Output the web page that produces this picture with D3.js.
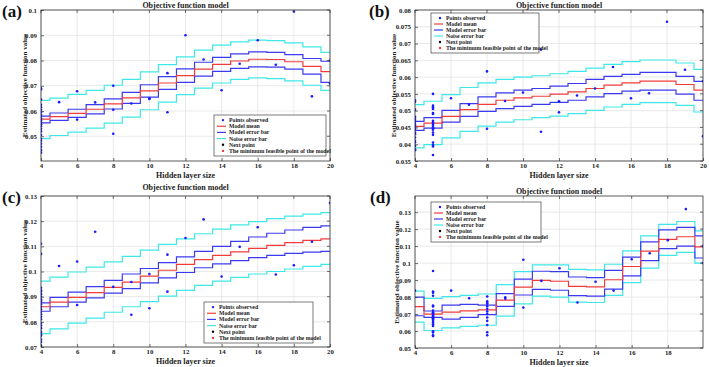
<!DOCTYPE html>
<html><head><meta charset="utf-8">
<script src="https://cdn.jsdelivr.net/npm/d3@7"></script>
<style>body{margin:0;background:#fff}svg text{font-family:"Liberation Serif","Times New Roman",serif;font-weight:bold}</style>
</head><body><svg id="c" width="709" height="367"></svg>
<script>
// ---------------- DATA ----------------
const hiddenSizes = [4,5,6,7,8,9,10,11,12,13,14,15,16,17,18,19,20];
const legendLabels = ["Points observed","Model mean","Model error bar","Noise error bar","Next point","The minimum feasible point of the model"];
const titleText = "Objective function model";
const xLabelText = "Hidden layer size";
const yLabelText = "Estimated objective function value";

// Panel (a)
const aMean   = [.0568,.0578,.0591,.0607,.0628,.0652,.0680,.0711,.0740,.0766,.0785,.0798,.0805,.0804,.0795,.0777,.0756];
const aModelUp= [.0580,.0592,.0607,.0625,.0648,.0674,.0704,.0736,.0767,.0793,.0812,.0826,.0834,.0832,.0823,.0808,.0797];
const aModelLo= [.0553,.0563,.0575,.0589,.0608,.0630,.0655,.0686,.0713,.0738,.0757,.0769,.0775,.0774,.0766,.0746,.0713];
const aNoiseUp= [.0642,.0651,.0666,.0682,.0702,.0725,.0755,.0784,.0814,.0841,.0861,.0874,.0881,.0879,.0870,.0854,.0832];
const aNoiseLo= [.0491,.0503,.0516,.0532,.0552,.0576,.0605,.0635,.0665,.0691,.0711,.0725,.0731,.0728,.0719,.0702,.0682];
const aPtsX = [4,4,4,4,4,4,4,4,4,4,4,4,4,4,4,4,4,4,4,4,4,4,4, 5,6,6,7,8,8,8,9,10,10,11,11,12,13,14,15,16,17,18,19,20,20];
const aPtsY = [.0690,.0685,.0645,.0625,.0615,.0605,.0595,.0585,.0578,.0570,.0562,.0555,.0548,.0540,.0530,.0520,.0505,.0490,.0482,.0470,.0458,.0445,.0435,
               .0635,.0678,.0566,.0634,.0700,.0605,.0510,.0630,.0650,.0648,.0750,.0595,.0900,.0804,.0682,.0787,.0880,.0783,.0994,.0658,.0800,.0709];
const aYTicks = [0.05,0.06,0.07,0.08,0.09,0.1];
const aXTicks = [4,6,8,10,12,14,16,18,20];

// Panel (b)
const bMean   = [.0453,.0463,.0483,.0503,.0519,.0531,.0538,.0543,.0549,.0556,.0566,.0576,.0583,.0588,.0588,.0578,.0561];
const bModelUp= [.0468,.0479,.0501,.0521,.0541,.0553,.0561,.0566,.0573,.0581,.0593,.0602,.0608,.0614,.0614,.0602,.0587];
const bModelLo= [.0441,.0448,.0466,.0483,.0498,.0506,.0513,.0519,.0525,.0531,.0541,.0551,.0558,.0561,.0561,.0549,.0531];
const bNoiseUp= [.0518,.0528,.0548,.0569,.0583,.0593,.0600,.0604,.0610,.0617,.0627,.0638,.0646,.0651,.0651,.0642,.0623];
const bNoiseLo= [.0389,.0399,.0419,.0438,.0454,.0466,.0473,.0479,.0484,.0491,.0501,.0511,.0519,.0524,.0524,.0516,.0496];
const bPtsX = [4,4,4,4,4,4,4,4,4,4,4,4,4,4,4,4,4,4,4, 5,5,5,5,5,5,5,5,5,5,5,5,5,5,5,5,5,5,5,
               6,7,8,8,9,10,11,11,12,12,13,14,15,16,17,18,19,20,20];
const bPtsY = [.0531,.0526,.0503,.0482,.0478,.0472,.0467,.0460,.0455,.0450,.0445,.0435,.0430,.0420,.0410,.0405,.0395,.0385,.0382,
               .0550,.0515,.0510,.0505,.0493,.0490,.0470,.0465,.0460,.0455,.0450,.0447,.0443,.0435,.0428,.0405,.0398,.0393,.0368,
               .0537,.0518,.0617,.0446,.0529,.0554,.0437,.0682,.0528,.0495,.0545,.0566,.0630,.0537,.0552,.0765,.0622,.0588,.0424];
const bYTicks = [0.035,0.04,0.045,0.05,0.055,0.06,0.065,0.07,0.075,0.08];
const bXTicks = [4,6,8,10,12,14,16,18,20];

// Panel (c)
const cMean   = [.0860,.0878,.0897,.0916,.0937,.0958,.0982,.1005,.1028,.1047,.1064,.1078,.1092,.1104,.1115,.1124,.1130];
const cModelUp= [.0875,.0897,.0918,.0940,.0965,.0990,.1012,.1035,.1058,.1080,.1100,.1120,.1137,.1152,.1165,.1175,.1181];
const cModelLo= [.0842,.0860,.0878,.0895,.0914,.0932,.0955,.0975,.0996,.1015,.1030,.1043,.1055,.1064,.1072,.1077,.1080];
const cNoiseUp= [.0962,.0978,.0998,.1017,.1038,.1060,.1085,.1108,.1130,.1150,.1168,.1185,.1198,.1210,.1220,.1228,.1234];
const cNoiseLo= [.0753,.0772,.0795,.0815,.0838,.0860,.0880,.0902,.0925,.0945,.0962,.0977,.0990,.1000,.1010,.1020,.1028];
const cPtsX = [4,4,4,4,4,4,4,4,4,4,4,4,4,4,4,4,4,4,4,4,4,4,4,4,4,4, 5,6,6,7,8,9,9,10,10,11,11,12,13,14,15,16,17,18,19,20];
const cPtsY = [.1110,.1070,.0935,.0925,.0920,.0910,.0900,.0890,.0885,.0880,.0870,.0860,.0850,.0840,.0830,.0820,.0810,.0795,.0785,.0775,.0760,.0750,.0745,.0730,.0720,.0705,
               .1022,.1040,.0867,.1158,.0939,.0958,.0828,.0990,.0854,.1067,.0920,.1133,.1207,.0980,.1098,.1176,.0988,.1025,.1118,.1272];
const cYTicks = [0.07,0.08,0.09,0.1,0.11,0.12,0.13];
const cXTicks = [4,6,8,10,12,14,16,18,20];

// Panel (d)
const dMean   = [.0744,.0699,.0711,.0719,.0724,.0782,.0858,.0898,.0893,.0863,.0860,.0902,.0980,.1070,.1140,.1155,.1095];
const dModelUp= [.0800,.0718,.0752,.0757,.0752,.0820,.0905,.0952,.0950,.0918,.0914,.0957,.1035,.1125,.1195,.1210,.1160];
const dModelLo= [.0690,.0680,.0670,.0680,.0697,.0745,.0812,.0845,.0840,.0808,.0805,.0847,.0925,.1015,.1085,.1100,.1030];
const dNoiseUp= [.0835,.0792,.0803,.0810,.0818,.0873,.0950,.0990,.0990,.0963,.0960,.0993,.1072,.1160,.1228,.1245,.1190];
const dNoiseLo= [.0652,.0603,.0618,.0627,.0634,.0688,.0760,.0805,.0800,.0770,.0768,.0810,.0885,.0970,.1045,.1063,.1000];
const dPtsX = [4, 5,5,5,5,5,5,5,5,5,5,5,5,5,5,5,5,5,5,5,5,5,5,5,5, 6,7, 8,8,8,8,8,8,8,8,8,8,8,8,8, 9,9,10,10,11,12,13,14,15,16,17,18,19,20,20];
const dPtsY = [.0838, .0953,.0832,.0825,.0808,.0750,.0745,.0720,.0710,.0705,.0700,.0695,.0690,.0685,.0680,.0675,.0670,.0660,.0650,.0640,.0630,.0598,.0592,.0575,.0570,
               .0838,.0793, .0803,.0775,.0765,.0760,.0745,.0730,.0715,.0700,.0680,.0660,.0635,.0593,.0575,
               .0798,.0790,.1020,.0738,.0895,.0970,.0768,.0890,.0838,.1023,.1058,.1135,.1318,.1000,.1100];
const dYTicks = [0.05,0.06,0.07,0.08,0.09,0.1,0.11,0.12,0.13];
const dXTicks = [4,6,8,10,12,14,16,18];

// -------------- LAYOUT --------------
const panels = [
 {tag:"(a)", mean:aMean, mu:aModelUp, ml:aModelLo, nu:aNoiseUp, nl:aNoiseLo, px:aPtsX, py:aPtsY, yt:aYTicks, xt:aXTicks,
  box:[41,10,330,161], xd:[4,20], yd:[0.0402,0.1], titleY:5, ylabX:25, tagPos:[2,17], leg:[214,115,112,41]},
 {tag:"(b)", mean:bMean, mu:bModelUp, ml:bModelLo, nu:bNoiseUp, nl:bNoiseLo, px:bPtsX, py:bPtsY, yt:bYTicks, xt:bXTicks,
  box:[415,10,703,161], xd:[4,20], yd:[0.035,0.08], titleY:5, ylabX:394, tagPos:[369,17], leg:[431,13,108,40]},
 {tag:"(c)", mean:cMean, mu:cModelUp, ml:cModelLo, nu:cNoiseUp, nl:cNoiseLo, px:cPtsX, py:cPtsY, yt:cYTicks, xt:cXTicks,
  box:[41,196,330,347], xd:[4,20], yd:[0.07,0.13], titleY:187.5, ylabX:25, tagPos:[2,203], leg:[204,302,109,41]},
 {tag:"(d)", mean:dMean, mu:dModelUp, ml:dModelLo, nu:dNoiseUp, nl:dNoiseLo, px:dPtsX, py:dPtsY, yt:dYTicks, xt:dXTicks,
  box:[415,196,703,348], xd:[4,19.95], yd:[0.05,0.1395], titleY:191.5, ylabX:397, tagPos:[370,203], leg:[431,202,110,40]}
];

const colRed="#f23c3c", colBlue="#3a3af0", colCyan="#3fe8e8", colPt="#1a1aff";
const svg = d3.select("#c");

panels.forEach((p,i)=>{
  const [x0,y0,x1,y1]=p.box;
  const x=d3.scaleLinear().domain(p.xd).range([x0,x1]);
  const y=d3.scaleLinear().domain(p.yd).range([y1,y0]);
  const g=svg.append("g");
  const cid="clip"+i;
  svg.append("clipPath").attr("id",cid).append("rect").attr("x",x0).attr("y",y0).attr("width",x1-x0).attr("height",y1-y0);
  // grid
  g.append("g").selectAll("line").data(p.xt).join("line")
    .attr("x1",d=>x(d)).attr("x2",d=>x(d)).attr("y1",y0).attr("y2",y1).attr("stroke","#e3e3e3").attr("stroke-width",0.8);
  g.append("g").selectAll("line").data(p.yt).join("line")
    .attr("y1",d=>y(d)).attr("y2",d=>y(d)).attr("x1",x0).attr("x2",x1).attr("stroke","#e3e3e3").attr("stroke-width",0.8);
  // step lines
  const line=d3.line().x((d,k)=>x(hiddenSizes[k])).y(d=>y(d)).curve(d3.curveStep);
  const plot=g.append("g").attr("clip-path","url(#"+cid+")");
  [[p.nu,colCyan],[p.nl,colCyan],[p.mu,colBlue],[p.ml,colBlue],[p.mean,colRed]].forEach(([arr,c])=>{
    plot.append("path").attr("d",line(arr)).attr("fill","none").attr("stroke",c).attr("stroke-width",1.2);
  });
  // points
  plot.append("g").selectAll("circle").data(p.px.map((v,k)=>[v,p.py[k]])).join("circle")
    .attr("cx",d=>x(Math.min(d[0],p.xd[1]))).attr("cy",d=>y(d[1])).attr("r",1.3).attr("fill",colPt);
  // axes
  const xa=d3.axisBottom(x).tickValues(p.xt).tickSize(-3).tickPadding(2).tickFormat(d3.format("d"));
  const ya=d3.axisLeft(y).tickValues(p.yt).tickSize(-3).tickPadding(4).tickFormat(d=>String(+d.toFixed(3)));
  const gx=g.append("g").attr("transform",`translate(0,${y1})`).call(xa);
  const gy=g.append("g").attr("transform",`translate(${x0},0)`).call(ya);
  [gx,gy].forEach(a=>{a.select(".domain").remove();a.selectAll("line").attr("stroke","#333").attr("stroke-width",0.7);
    a.selectAll("text").attr("font-size",6.8).attr("fill","#222");});
  // top/right ticks
  g.append("g").selectAll("line").data(p.xt).join("line").attr("x1",d=>x(d)).attr("x2",d=>x(d)).attr("y1",y0).attr("y2",y0+3).attr("stroke","#333").attr("stroke-width",0.7);
  g.append("g").selectAll("line").data(p.yt).join("line").attr("y1",d=>y(d)).attr("y2",d=>y(d)).attr("x1",x1).attr("x2",x1-3).attr("stroke","#333").attr("stroke-width",0.7);
  g.append("rect").attr("x",x0).attr("y",y0).attr("width",x1-x0).attr("height",y1-y0).attr("fill","none").attr("stroke","#333").attr("stroke-width",0.8);
  // texts
  g.append("text").attr("x",(x0+x1)/2).attr("y",p.titleY).attr("dy","0.35em").attr("text-anchor","middle").attr("font-size",8).attr("fill","#222").text(titleText);
  g.append("text").attr("x",(x0+x1)/2).attr("y",y1+14.5).attr("dy","0.35em").attr("text-anchor","middle").attr("font-size",8).attr("fill","#222").text(xLabelText);
  g.append("text").attr("transform",`translate(${p.ylabX},${(y0+y1)/2}) rotate(-90)`).attr("dy","0.35em").attr("text-anchor","middle").attr("font-size",7).attr("fill","#222").text(yLabelText);
  g.append("text").attr("x",p.tagPos[0]).attr("y",p.tagPos[1]).attr("font-size",17).attr("fill","#111").text(p.tag);
  // legend
  const [lx,ly,lw,lh]=p.leg;
  const lg=g.append("g");
  lg.append("rect").attr("x",lx).attr("y",ly).attr("width",lw).attr("height",lh).attr("fill","#fff").attr("stroke","#444").attr("stroke-width",0.7);
  const rowH=(lh-4)/6;
  legendLabels.forEach((t,k)=>{
    const cy=ly+2+rowH*(k+0.5);
    if(k===0) lg.append("circle").attr("cx",lx+9).attr("cy",cy).attr("r",1.2).attr("fill",colPt);
    else if(k<4) lg.append("line").attr("x1",lx+3).attr("x2",lx+12).attr("y1",cy).attr("y2",cy).attr("stroke",[null,colRed,colBlue,colCyan][k]).attr("stroke-width",1.2);
    else lg.append("circle").attr("cx",lx+9).attr("cy",cy).attr("r",1.2).attr("fill",k===4?"#000":colRed);
    lg.append("text").attr("x",lx+15).attr("y",cy).attr("dy","0.35em").attr("font-size",5.8).attr("fill","#222").text(t);
  });
});
</script></body></html>
